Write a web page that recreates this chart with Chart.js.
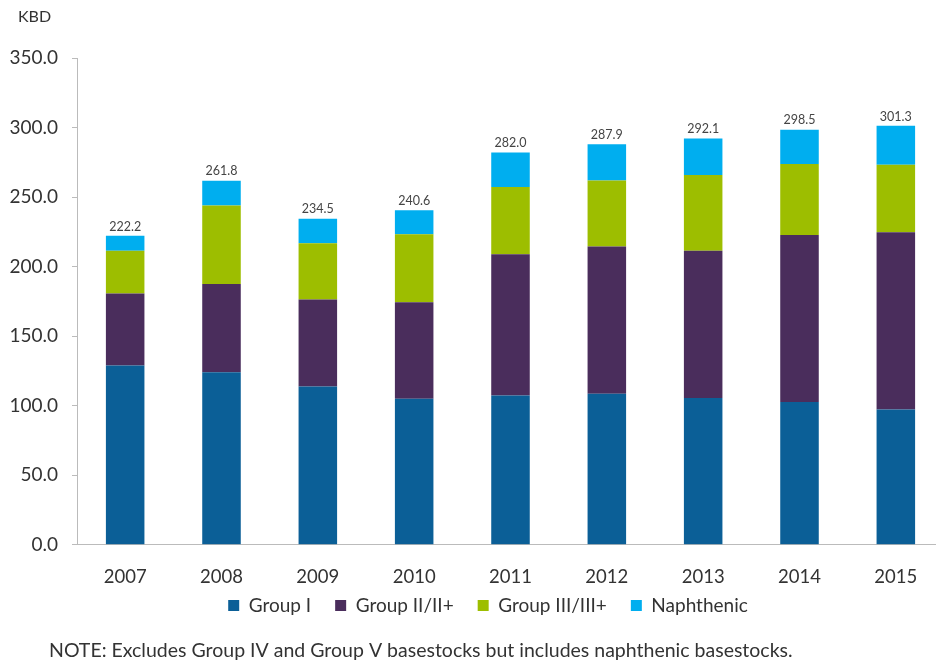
<!DOCTYPE html>
<html>
<head>
<meta charset="utf-8">
<script src="https://cdn.jsdelivr.net/npm/chart.js@4"></script>
<style>
  html, body { margin: 0; padding: 0; background: #fff; overflow: hidden; }
  canvas { display: block; }
</style>
</head>
<body>
<canvas id="baseChart" width="950" height="663"></canvas>
<script>
const years = ['2007', '2008', '2009', '2010', '2011', '2012', '2013', '2014', '2015'];
const groupI = [129.0, 124.0, 113.9, 105.0, 107.4, 108.6, 105.5, 102.6, 97.3];
const groupII = [51.7, 63.5, 62.5, 69.3, 101.5, 105.8, 106.0, 120.2, 127.4];
const groupIII = [30.8, 56.4, 40.4, 49.0, 48.3, 47.5, 54.3, 51.0, 48.6];
const naphthenic = [10.7, 17.9, 17.7, 17.3, 24.8, 26.0, 26.3, 24.7, 28.0];
const totals = ['222.2', '261.8', '234.5', '240.6', '282.0', '287.9', '292.1', '298.5', '301.3'];

const FONT = 'Lato, "Open Sans", sans-serif';

// totals above bars + the two loose captions
const extras = {
    id: 'extras',
    afterLayout(chart) {
        // nudge the legend up and right, closer to the year labels
        const lg = chart.legend;
        lg.top -= 29;
        lg.bottom -= 29;
        lg.left += 16;
        lg.right += 16;
    },
    afterDatasetsDraw(chart) {
        const c = chart.ctx;
        const top = chart.getDatasetMeta(3).data;
        c.save();
        c.fillStyle = '#444';
        c.font = '12.5px ' + FONT;
        c.textAlign = 'center';
        c.textBaseline = 'bottom';
        top.forEach((bar, i) => c.fillText(totals[i], bar.x, bar.y - 3));
        c.textAlign = 'left';
        c.textBaseline = 'middle';
        c.fillStyle = '#333';
        c.font = '16px ' + FONT;
        c.fillText('KBD', 18, 17);
        c.font = '19.5px ' + FONT;
        c.fillText('NOTE: Excludes Group IV and Group V basestocks but includes naphthenic basestocks.', 49, 651);
        c.restore();
    }
};

new Chart(document.getElementById('baseChart'), {
    type: 'bar',
    data: {
        labels: years,
        datasets: [
            { label: 'Group I', data: groupI, backgroundColor: '#0B5F97' },
            { label: 'Group II/II+', data: groupII, backgroundColor: '#4A2D5C' },
            { label: 'Group III/III+', data: groupIII, backgroundColor: '#9DBE00' },
            { label: 'Naphthenic', data: naphthenic, backgroundColor: '#00AEEF' }
        ]
    },
    options: {
        responsive: false,
        animation: false,
        layout: { padding: { left: 0, right: 6, top: 58, bottom: 9 } },
        datasets: { bar: { categoryPercentage: 1, barPercentage: 0.4 } },
        plugins: {
            legend: {
                position: 'bottom',
                labels: { boxWidth: 11, boxHeight: 11, padding: 24, color: '#333', font: { family: FONT, size: 19 } }
            },
            tooltip: { enabled: false }
        },
        scales: {
            x: {
                stacked: true,
                grid: { display: false },
                border: { color: '#bbb' },
                ticks: { color: '#333', padding: 13, font: { family: FONT, size: 18.5 } }
            },
            y: {
                stacked: true,
                min: 0,
                max: 350,
                afterFit(scale) { scale.width = 77; },
                grid: { drawOnChartArea: false, drawTicks: true, tickLength: 5, color: '#bbb' },
                border: { color: '#bbb' },
                ticks: { stepSize: 50, color: '#333', padding: 14, font: { family: FONT, size: 19 },
                    callback: v => v.toFixed(1) }
            }
        }
    },
    plugins: [extras]
});
</script>
</body>
</html>
